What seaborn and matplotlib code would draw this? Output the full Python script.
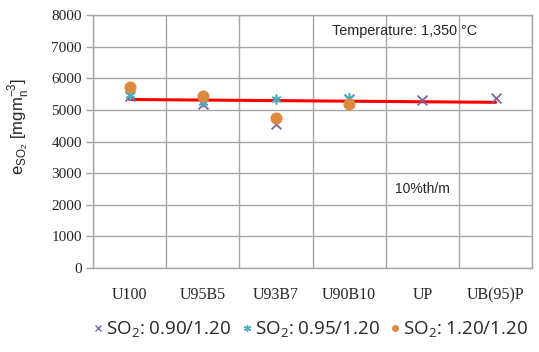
import numpy as np
import pandas as pd
import matplotlib
matplotlib.use("Agg")
import matplotlib.pyplot as plt
import seaborn as sns
from matplotlib.lines import Line2D

categories = ["U100", "U95B5", "U93B7", "U90B10", "UP", "UB(95)P"]
so2_090 = [5450, 5190, 4560, 5340, 5320, 5380]
so2_095 = [5480, 5250, 5330, 5370, np.nan, np.nan]
so2_120 = [5715, 5450, 4750, 5190, np.nan, np.nan]
trend_cats = ["U100", "UB(95)P"]
trend_vals = [5330, 5240]
yticks = [0, 1000, 2000, 3000, 4000, 5000, 6000, 7000, 8000]

sns.set_theme(style="white")
plt.rcParams["font.family"] = ["Liberation Serif", "DejaVu Serif"]

pos = {c: i for i, c in enumerate(categories)}
rows = []
for name, vals in [("090", so2_090), ("095", so2_095), ("120", so2_120)]:
    for c, v in zip(categories, vals):
        rows.append({"cat": c, "x": pos[c], "val": v, "series": name})
df = pd.DataFrame(rows)
tdf = pd.DataFrame({"x": [pos[c] for c in trend_cats], "val": trend_vals})

fig = plt.figure(figsize=(5.39, 3.52), dpi=100)
ax = fig.add_axes([0.1725, 0.239, 0.815, 0.718])

c090 = "#8064A2"
c095 = "#4BACC6"
c120 = "#DD8A3E"

sns.scatterplot(data=df[df.series == "090"], x="x", y="val", marker="x",
                color=c090, s=50, linewidth=1.3, ax=ax, zorder=3)
sns.scatterplot(data=df[df.series == "095"], x="x", y="val", marker=(6, 2, 0),
                color=c095, s=40, linewidth=1.2, ax=ax, zorder=4)
sns.scatterplot(data=df[df.series == "120"], x="x", y="val", marker="o",
                color=c120, s=75, linewidth=0, ax=ax, zorder=5)
sns.lineplot(data=tdf, x="x", y="val", color="#FF0000", linewidth=2.2, ax=ax, zorder=2)

ax.set_xlim(-0.5, len(categories) - 0.5)
ax.set_ylim(0, 8000)
ax.set_yticks(yticks)
ax.set_yticklabels([str(t) for t in yticks], fontsize=11)
ax.set_xticks(range(len(categories)))
ax.set_xticklabels(categories, fontsize=11.5)
ax.set_xticks(np.arange(-0.5, len(categories), 1.0), minor=True)
ax.grid(False)
ax.yaxis.grid(True, color="#A6A6A6", linewidth=1.0)
ax.xaxis.grid(True, which="minor", color="#A6A6A6", linewidth=1.0)
ax.set_axisbelow(True)
for sp in ax.spines.values():
    sp.set_color("#A6A6A6")
    sp.set_linewidth(1.0)
ax.tick_params(axis="x", which="major", length=0, pad=14)
ax.tick_params(axis="x", which="minor", length=5, color="#A6A6A6", width=1)
ax.tick_params(axis="y", length=5, color="#A6A6A6", width=1, pad=3, left=True)
ax.set_xlabel("")
ax.set_ylabel(r"e$_{\mathregular{SO_2}}$ [mgm$_{\mathregular{n}}^{\mathregular{-3}}$]",
              fontsize=12, family=["Liberation Sans", "DejaVu Sans"])
ax.yaxis.set_label_coords(-0.14, 0.56)

ax.text(0.71, 0.937, "Temperature: 1,350 °C", transform=ax.transAxes,
        fontsize=10.4, family=["Liberation Sans", "DejaVu Sans"], va="center", ha="center")
ax.text(0.75, 0.312, "10%th/m", transform=ax.transAxes,
        fontsize=10, family=["Liberation Sans", "DejaVu Sans"], va="center", ha="center")

handles = [
    Line2D([], [], marker="x", color=c090, linestyle="", markersize=5, markeredgewidth=1),
    Line2D([], [], marker=(6, 2, 0), color=c095, linestyle="", markersize=5, markeredgewidth=1),
    Line2D([], [], marker="o", color=c120, linestyle="", markersize=5, markeredgewidth=0),
]
labels = [r"SO$_{\mathregular{2}}$: 0.90/1.20", r"SO$_{\mathregular{2}}$: 0.95/1.20",
          r"SO$_{\mathregular{2}}$: 1.20/1.20"]
fig.legend(handles, labels, loc="center", bbox_to_anchor=(0.576, 0.063), ncol=3,
           frameon=False, handletextpad=0.15, columnspacing=0.5, handlelength=0.6,
           prop={"family": ["Open Sans", "DejaVu Sans"], "size": 13.5})

fig.savefig("out.png", dpi=100)
